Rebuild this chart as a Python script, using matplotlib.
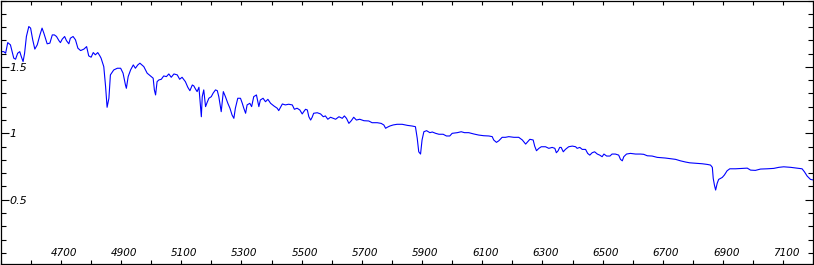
import matplotlib
matplotlib.use("Agg")
import matplotlib.pyplot as plt
from matplotlib.ticker import FixedLocator, MultipleLocator
import matplotlib.transforms as mtransforms

wavelength = [4500, 4511, 4517, 4524, 4533, 4544, 4550, 4557, 4564, 4569, 4575, 4580, 4586, 4594, 4600,
              4607, 4614, 4622, 4631, 4638, 4644, 4655, 4664, 4672, 4679, 4686, 4694, 4699, 4705, 4713,
              4719, 4727, 4732, 4741, 4749, 4757, 4766, 4777, 4786, 4793, 4801, 4808, 4815, 4823, 4830,
              4834, 4843, 4849, 4854, 4860, 4865, 4876, 4888, 4899, 4907, 4915, 4918, 4924, 4932, 4941,
              4948, 4956, 4963, 4976, 4987, 4998, 5007, 5011, 5015, 5020, 5026, 5034, 5042, 5051,
              5059, 5067, 5076, 5087, 5095, 5103, 5114, 5122, 5129, 5137, 5142, 5148, 5153, 5159, 5162,
              5167, 5170, 5175, 5181, 5186, 5192, 5200, 5206, 5214, 5220, 5225, 5233, 5240, 5247, 5255,
              5262, 5269, 5275, 5280, 5288, 5297, 5303, 5308, 5314, 5319, 5328, 5334, 5341, 5350, 5358,
              5363, 5372, 5380, 5388, 5397, 5408, 5419, 5424, 5436, 5446, 5457, 5469, 5476, 5485, 5494,
              5502, 5507, 5513, 5519, 5524, 5530, 5535, 5540, 5552, 5563, 5572, 5579, 5587, 5596, 5605,
              5613, 5624, 5635, 5642, 5649, 5657, 5665, 5673, 5682, 5693, 5707, 5723, 5734, 5751, 5764,
              5773, 5779, 5784, 5793, 5804, 5817, 5834, 5851, 5867, 5878, 5884, 5889, 5895, 5900, 5906,
              5915, 5926, 5934, 5945, 5956, 5970, 5981, 5992, 6000, 6017, 6030, 6041, 6055, 6072, 6088,
              6105, 6122, 6133, 6138, 6147, 6155, 6166, 6177, 6188, 6205, 6221, 6233, 6244, 6249, 6258,
              6269, 6274, 6280, 6288, 6296, 6310, 6321, 6332, 6341, 6346, 6352, 6357, 6362, 6369, 6376,
              6387, 6399, 6410, 6415, 6424, 6432, 6443, 6450, 6457, 6465, 6473, 6482, 6490, 6498, 6504,
              6513, 6524, 6531, 6542, 6553, 6559, 6565, 6570, 6579, 6592, 6609, 6625, 6636, 6648, 6664,
              6681, 6698, 6708, 6725, 6742, 6758, 6775, 6789, 6814, 6830, 6847, 6858, 6864, 6867, 6871,
              6875, 6880, 6885, 6897, 6904, 6913, 6922, 6941, 6963, 6980, 6991, 7007, 7024, 7046, 7068,
              7085, 7101, 7124, 7146, 7162, 7170, 7179, 7190, 7201]

flux = [1.615, 1.615, 1.603, 1.683, 1.666, 1.566, 1.558, 1.603, 1.615, 1.578, 1.540, 1.603, 1.729, 1.804, 1.792,
        1.704, 1.634, 1.666, 1.741, 1.792, 1.754, 1.674, 1.679, 1.741, 1.741, 1.729, 1.698, 1.683, 1.709, 1.729,
        1.698, 1.674, 1.716, 1.729, 1.704, 1.641, 1.623, 1.634, 1.653, 1.583, 1.573, 1.608, 1.591, 1.608, 1.583,
        1.566, 1.502, 1.352, 1.196, 1.264, 1.440, 1.477, 1.490, 1.490, 1.453, 1.364, 1.339, 1.427, 1.477, 1.515,
        1.490, 1.515, 1.528, 1.502, 1.453, 1.432, 1.415, 1.327, 1.289, 1.389, 1.402, 1.407, 1.432, 1.427,
        1.447, 1.422, 1.447, 1.440, 1.407, 1.422, 1.389, 1.347, 1.321, 1.364, 1.357, 1.332, 1.314, 1.347, 1.264,
        1.125, 1.276, 1.327, 1.201, 1.231, 1.264, 1.276, 1.302, 1.327, 1.321, 1.276, 1.163, 1.314, 1.276, 1.226,
        1.189, 1.138, 1.113, 1.189, 1.264, 1.264, 1.226, 1.189, 1.151, 1.214, 1.226, 1.201, 1.276, 1.289, 1.201,
        1.251, 1.264, 1.238, 1.256, 1.226, 1.206, 1.189, 1.171, 1.221, 1.214, 1.219, 1.214, 1.181, 1.189, 1.176,
        1.146, 1.163, 1.181, 1.176, 1.125, 1.100, 1.121, 1.151, 1.155, 1.146, 1.125, 1.131, 1.106, 1.121, 1.113,
        1.106, 1.125, 1.113, 1.131, 1.113, 1.075, 1.095, 1.121, 1.100, 1.106, 1.095, 1.093, 1.080, 1.080, 1.075,
        1.063, 1.038, 1.045, 1.055, 1.063, 1.068, 1.068, 1.060, 1.055, 1.050, 0.962, 0.861, 0.844, 0.950, 1.012,
        1.020, 1.005, 1.010, 1.000, 0.993, 0.993, 0.980, 0.980, 1.000, 1.005, 1.012, 1.005, 1.005, 0.995, 0.987,
        0.982, 0.980, 0.975, 0.950, 0.932, 0.944, 0.970, 0.970, 0.975, 0.970, 0.970, 0.950, 0.919, 0.932, 0.955,
        0.950, 0.904, 0.869, 0.887, 0.899, 0.899, 0.887, 0.894, 0.887, 0.854, 0.869, 0.894, 0.894, 0.861, 0.879,
        0.899, 0.904, 0.899, 0.887, 0.894, 0.879, 0.879, 0.849, 0.836, 0.854, 0.861, 0.844, 0.836, 0.824, 0.844,
        0.829, 0.829, 0.844, 0.844, 0.836, 0.804, 0.793, 0.824, 0.844, 0.849, 0.844, 0.844, 0.842, 0.831, 0.829,
        0.819, 0.816, 0.814, 0.809, 0.804, 0.793, 0.784, 0.778, 0.774, 0.771, 0.766, 0.761, 0.744, 0.661, 0.610,
        0.573, 0.623, 0.653, 0.668, 0.686, 0.718, 0.733, 0.733, 0.736, 0.738, 0.723, 0.721, 0.731, 0.733, 0.736,
        0.744, 0.748, 0.744, 0.738, 0.733, 0.710, 0.678, 0.653, 0.648]

x_ticks = [4700, 4900, 5100, 5300, 5500, 5700, 5900, 6100, 6300, 6500, 6700, 6900, 7100]
x_tick_labels = ["4700", "4900", "5100", "5300", "5500", "5700", "5900", "6100", "6300", "6500", "6700", "6900", "7100"]
y_ticks = [0.5, 1.0, 1.5]
y_tick_labels = ["0.5", "1", "1.5"]

W, H, DPI = 814, 265, 100
fig = plt.figure(figsize=(W / DPI, H / DPI), dpi=DPI)
fig.patch.set_facecolor("white")
ax = fig.add_axes([0.5 / W, 1.5 / H, 813 / W, 263 / H])
ax.plot(wavelength, flux, color="#0000ff", lw=0.8)
ax.set_xlim(4500, 7200)
ax.set_ylim(0.02, 2.0)

ax.xaxis.set_major_locator(FixedLocator(x_ticks))
ax.set_xticklabels(x_tick_labels)
ax.xaxis.set_minor_locator(MultipleLocator(100))
ax.yaxis.set_major_locator(FixedLocator(y_ticks))
ax.set_yticklabels(y_tick_labels)
ax.yaxis.set_minor_locator(MultipleLocator(0.1))

px = 72 / DPI
ax.tick_params(axis="x", which="both", direction="in", top=True, bottom=True,
               length=4 * px, width=0.8, color="black", pad=-16 * px,
               labelsize=7.5, labelcolor="black")
ax.tick_params(axis="y", which="major", direction="in", left=True, right=True,
               length=8 * px, width=0.8, color="black", pad=-9 * px,
               labelsize=8, labelcolor="black")
ax.tick_params(axis="y", which="minor", direction="in", left=True, right=True,
               length=5 * px, width=0.8, color="black")

offx = mtransforms.ScaledTranslation(3 / DPI, 0, fig.dpi_scale_trans)
for lab in ax.get_xticklabels():
    lab.set_fontstyle("italic")
    lab.set_transform(lab.get_transform() + offx)
for lab in ax.get_yticklabels():
    lab.set_fontstyle("italic")
    lab.set_horizontalalignment("left")

for s in ax.spines.values():
    s.set_color("black")
    s.set_linewidth(0.9)

fig.savefig("out.png", dpi=DPI, facecolor="white")
